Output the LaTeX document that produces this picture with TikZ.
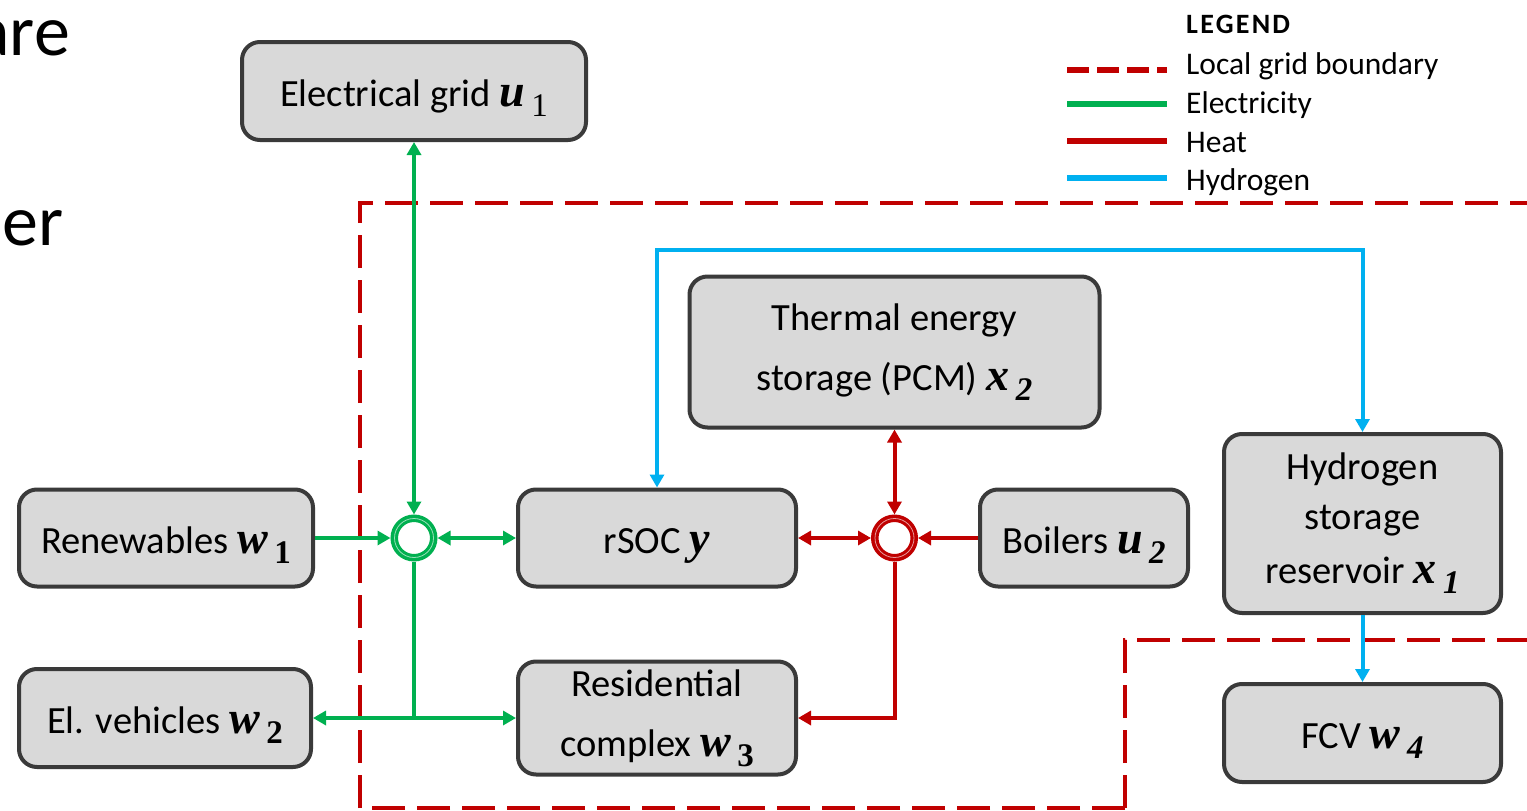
\documentclass[tikz,border=0pt]{standalone}
\usepackage{fontspec}
\setmainfont{Carlito}
\newfontfamily\serifv{Liberation Serif}
\usetikzlibrary{arrows.meta}
\definecolor{elec}{HTML}{00B050}
\definecolor{heat}{HTML}{C00000}
\definecolor{hydro}{HTML}{00B0F0}
\definecolor{boxfill}{HTML}{D9D9D9}
\definecolor{boxline}{HTML}{3A3A3A}
\newcommand\vb[1]{{\serifv\bfseries\itshape\fontsize{46}{46}\selectfont #1}}
\newcommand\sbr[1]{\raisebox{-10pt}{\serifv\fontsize{33}{33}\selectfont #1}}
\newcommand\sbb[1]{\raisebox{-10pt}{\serifv\bfseries\fontsize{33}{33}\selectfont #1}}
\newcommand\sbi[1]{\raisebox{-10pt}{\serifv\bfseries\itshape\fontsize{33}{33}\selectfont #1}}
\begin{document}
\begin{tikzpicture}[x=1pt,y=-1pt,
  box/.style={draw=boxline, line width=4pt, fill=boxfill, rounded corners=18pt,
    align=center, font=\fontsize{38.5}{60}\selectfont, inner sep=0pt},
  onel/.style={text height=40pt, text depth=10pt},
  hub/.style={circle, draw=#1, line width=7.5pt, minimum size=39.5pt, inner sep=0pt, fill=white},
  flow/.style={line width=4pt, draw=#1},
  tip/.style={-{Triangle[length=13pt,width=14pt]}},
  tips/.style={{Triangle[length=13pt,width=14pt]}-{Triangle[length=13pt,width=14pt]}},
  bound/.style={draw=heat, line width=4pt, dash pattern=on 33pt off 12pt},
  legtext/.style={anchor=base west, font=\fontsize{31.5}{31.5}\selectfont, inner sep=0pt}]
\useasboundingbox[fill=white] (0,0) rectangle (1527,811);

% cropped slide text
\node[anchor=base east, inner sep=0pt, font=\fontsize{72}{72}\selectfont] (t1) at (70,55) {are};
\node[anchor=base east, inner sep=0pt, font=\fontsize{72}{72}\selectfont] (t2) at (64,245) {er};

% local grid boundaries
\coordinate (b1) at (1125,808);
\coordinate (b2) at (360,808);
\coordinate (b3) at (360,203);
\coordinate (b4) at (1540,203);
\coordinate (c1) at (1125,808);
\coordinate (c2) at (1125,640);
\coordinate (c3) at (1540,640);
\draw[bound] (b1) -- (b2) -- (b3) -- (b4);
\draw[bound] (c1) -- (c2) -- (c3);

% boxes
\node[box, onel, minimum width=344pt, minimum height=98pt] (grid) at (414,91) {Electrical grid \vb{u}\,\sbr{1}};
\node[box, onel, minimum width=294pt, minimum height=97pt] (ren) at (166,538) {Renewables \vb{w}\,\sbb{1}};
\node[box, onel, minimum width=292pt, minimum height=98pt] (ev) at (165,718) {El. vehicles \vb{w}\,\sbb{2}};
\node[box, onel, minimum width=278pt, minimum height=97pt] (rsoc) at (657,538) {rSOC \vb{y}};
\node[box, minimum width=278pt, minimum height=113pt] (res) at (657,718) {Residential\\complex \vb{w}\,\sbb{3}};
\node[box, minimum width=410pt, minimum height=151pt] (tes) at (894.5,352) {Thermal energy\\storage (PCM) \vb{x}\,\sbi{2}};
\node[box, onel, minimum width=208pt, minimum height=97pt] (boil) at (1084,538) {Boilers \vb{u}\,\sbi{2}};
\node[box, minimum width=277pt, minimum height=179pt, font=\fontsize{38.5}{50}\selectfont] (hyd) at (1362.5,523.5) {Hydrogen\\storage\\[4pt]reservoir \vb{x}\,\sbi{1}};
\node[box, onel, minimum width=277pt, minimum height=98pt] (fcv) at (1362.5,733) {FCV \vb{w}\,\sbi{4}};

% hubs
\node[hub=elec] (hubE) at (414,538) {};
\node[hub=heat] (hubH) at (894.5,538) {};
\draw[white!60!elec, line width=0.8pt] (hubE) circle[radius=19.5];
\draw[white!60!heat, line width=0.8pt] (hubH) circle[radius=19.5];

% electricity
\draw[flow=elec, tips] (grid.south) -- (hubE.north);
\draw[flow=elec, tip] (ren.east) -- (hubE.west);
\draw[flow=elec, tips] (hubE.east) -- (rsoc.west);
\draw[flow=elec, tip] (hubE.south) |- (ev.east);
\draw[flow=elec, tip] (hubE.south) |- (res.west);

% heat
\draw[flow=heat, tips] (tes.south) -- (hubH.north);
\draw[flow=heat, tips] (rsoc.east) -- (hubH.west);
\draw[flow=heat, tip] (boil.west) -- (hubH.east);
\draw[flow=heat, tip] (hubH.south) |- (res.east);

% hydrogen
\coordinate (htop) at (0,250);
\draw[flow=hydro, tips] (rsoc.north) -- (rsoc.north |- htop) -| (hyd.north);
\draw[flow=hydro, tip] (hyd.south) -- (fcv.north);

% legend
\node[anchor=base west, inner sep=0pt, font=\bfseries\fontsize{28}{28}\selectfont\addfontfeatures{LetterSpace=8}] (legt) at (1186,33) {LEGEND};
\coordinate (l1a) at (1067,70); \coordinate (l1b) at (1167,70);
\coordinate (l2a) at (1067,104); \coordinate (l2b) at (1167,104);
\coordinate (l3a) at (1067,141); \coordinate (l3b) at (1167,141);
\coordinate (l4a) at (1067,178); \coordinate (l4b) at (1167,178);
\draw[draw=heat, line width=6pt, dash pattern=on 22pt off 8pt] (l1a) -- (l1b);
\draw[draw=elec, line width=6pt] (l2a) -- (l2b);
\draw[draw=heat, line width=6pt] (l3a) -- (l3b);
\draw[draw=hydro, line width=6pt] (l4a) -- (l4b);
\node[legtext] (lg1) at (1186,74) {Local grid boundary};
\node[legtext] (lg2) at (1186,113) {Electricity};
\node[legtext] (lg3) at (1186,152) {Heat};
\node[legtext] (lg4) at (1186,190) {Hydrogen};
\end{tikzpicture}
\end{document}
